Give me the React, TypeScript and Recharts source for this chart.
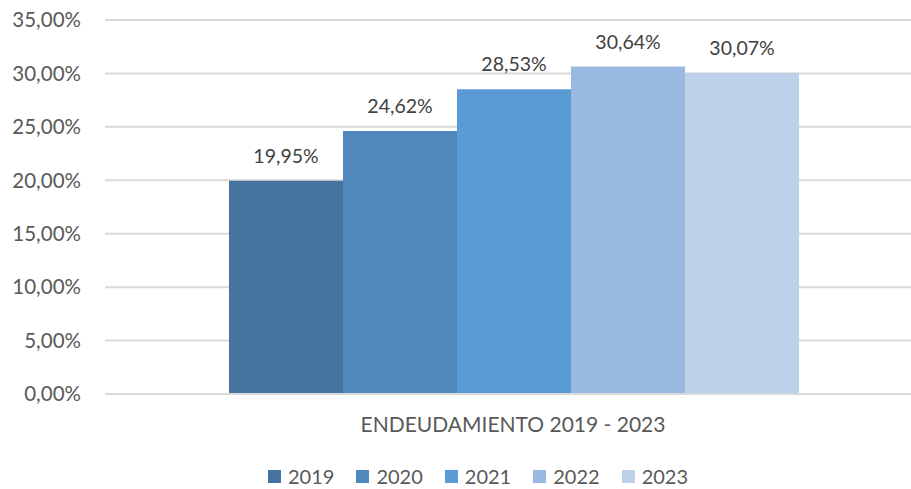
import { Bar, BarChart, CartesianGrid, LabelList, Legend, XAxis, YAxis } from "recharts";

const category = "ENDEUDAMIENTO 2019 - 2023";
const years = ["2019", "2020", "2021", "2022", "2023"];
const values = [0.1995, 0.2462, 0.2853, 0.3064, 0.3007];
const colors = ["#44739F", "#4F88BD", "#5B9BD5", "#9AB9E0", "#BDD1EA"];
const yTicks = [0, 0.05, 0.1, 0.15, 0.2, 0.25, 0.3, 0.35];

const row: any = { name: category };
years.forEach((y, i) => (row[y] = values[i]));
const data = [row];

const font = "Lato, 'Open Sans', sans-serif";
const pct = (v: number) => (v * 100).toFixed(2).replace(".", ",") + "%";

function LegendBox() {
  return (
    <div style={{ display: "flex", gap: 22, fontFamily: font, fontSize: 20, color: "#595959" }}>
      {years.map((y, i) => (
        <div key={y} style={{ display: "flex", alignItems: "center", gap: 7 }}>
          <span style={{ width: 13, height: 13, background: colors[i], display: "inline-block" }} />
          <span>{y}</span>
        </div>
      ))}
    </div>
  );
}

export default function App() {
  return (
    <div style={{ position: "absolute", left: 0, top: 0, width: 911, height: 489, overflow: "hidden", background: "#fff" }}>
      <BarChart
        width={925}
        height={489}
        data={data}
        margin={{ top: 20, right: 4, left: 0, bottom: 35 }}
        barGap={0}
        barCategoryGap={124}
      >
        <CartesianGrid vertical={false} stroke="#D9D9D9" strokeWidth={2} />
        <XAxis
          dataKey="name"
          axisLine={{ stroke: "#D9D9D9", strokeWidth: 2 }}
          tickLine={false}
          tickMargin={17}
          height={60}
          tick={{ fontFamily: font, fontSize: 21, fill: "#595959" }}
        />
        <YAxis
          domain={[0, 0.35]}
          ticks={yTicks}
          tickFormatter={pct}
          axisLine={false}
          tickLine={false}
          width={105}
          tickMargin={18}
          tick={{ fontFamily: font, fontSize: 20.5, fill: "#595959" }}
        />
        <Legend
          verticalAlign="middle"
          layout="horizontal"
          content={() => <LegendBox />}
          wrapperStyle={{ top: 464, left: 268, width: "auto" }}
        />
        {years.map((y, i) => (
          <Bar key={y} dataKey={y} fill={colors[i]} isAnimationActive={false}>
            <LabelList
              dataKey={y}
              position="top"
              offset={18}
              formatter={(v: any) => pct(v)}
              style={{ fontFamily: font, fontSize: 19.5, fill: "#404040" }}
            />
          </Bar>
        ))}
      </BarChart>
    </div>
  );
}
